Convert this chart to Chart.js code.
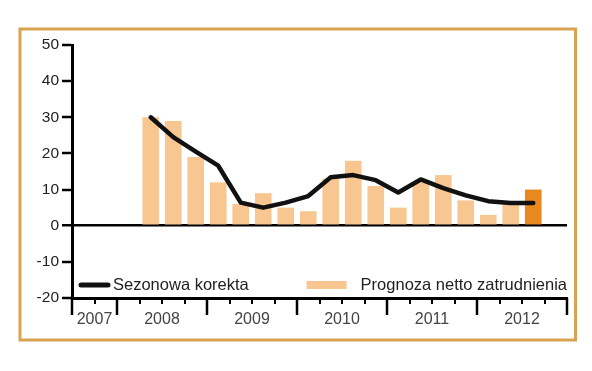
<!DOCTYPE html>
<html>

<head>
    <title>Prognoza netto zatrudnienia</title>
    <script src="https://cdn.jsdelivr.net/npm/chart.js"></script>
    <style>
        html, body {
            margin: 0;
            padding: 0;
            background: #ffffff;
        }

        #wrap {
            position: relative;
            width: 592px;
            height: 371px;
        }
    </style>
</head>

<body>
    <div id="wrap">
        <canvas id="chart" width="592" height="371"></canvas>
    </div>

    <script>
        // Years on the axis and how many quarters each one shows (2007 starts at Q3)
        const years = ['2007', '2008', '2009', '2010', '2011', '2012'];
        const quartersPerYear = [2, 4, 4, 4, 4, 4];

        // First quarter with data: 2008 Q2 (slot 3, counting from 2007 Q3)
        const firstSlot = 3;

        // Net employment outlook (bars) and seasonally adjusted (line)
        const forecast = [30, 29, 19, 12, 6, 9, 5, 4, 13, 18, 11, 5, 12, 14, 7, 3, 6.5, 10];
        const seasonal = [30, 24.5, 20.5, 16.6, 6.4, 5, 6.4, 8.2, 13.4, 14, 12.6, 9.2, 12.8, 10.4, 8.4, 6.8, 6.3, 6.3];

        // Y axis range
        const yMin = -20;
        const yMax = 50;
        const yStep = 10;

        const labelBars = 'Prognoza netto zatrudnienia';
        const labelLine = 'Sezonowa korekta';

        const peach = '#f8c690';
        const orange = '#e8891f';
        const frameColor = '#d9a352';
        const textColor = '#222222';
        const yearColor = '#444444';
        const fontFamily = '"Liberation Sans", Arial, sans-serif';

        // Quarter boundaries where a year starts/ends, and the middle of each year
        const totalSlots = quartersPerYear.reduce((a, b) => a + b, 0);
        const yearEdges = [0];
        quartersPerYear.forEach(n => yearEdges.push(yearEdges[yearEdges.length - 1] + n));
        const yearCenters = years.map((y, i) => (yearEdges[i] + yearEdges[i + 1]) / 2);

        const barPoints = forecast.map((v, i) => ({ x: firstSlot + i + 0.5, y: v }));
        const linePoints = seasonal.map((v, i) => ({ x: firstSlot + i + 0.5, y: v }));

        // Orange frame around the whole graphic
        const framePlugin = {
            id: 'frame',
            beforeDraw(chart) {
                const c = chart.ctx;
                c.save();
                c.strokeStyle = frameColor;
                c.lineWidth = 3;
                c.strokeRect(20, 29, 555.5, 311);
                c.restore();
            }
        };

        // Quarter tick marks below the x axis, longer at year edges
        const quarterTicks = {
            id: 'quarterTicks',
            afterDraw(chart) {
                const xs = chart.scales.x;
                const c = chart.ctx;
                c.save();
                c.strokeStyle = '#000';
                for (let q = 0; q <= totalSlots; q++) {
                    const px = Math.round(xs.getPixelForValue(q));
                    const major = yearEdges.includes(q);
                    c.lineWidth = major ? 2.5 : 2;
                    c.beginPath();
                    c.moveTo(px, xs.top);
                    c.lineTo(px, xs.top + (major ? 17 : 6));
                    c.stroke();
                }
                c.restore();
            }
        };

        // Legend drawn inside the plot, one item at each side
        const insideLegend = {
            id: 'insideLegend',
            afterDraw(chart) {
                const area = chart.chartArea;
                const c = chart.ctx;
                const y = area.bottom - 13;
                c.save();
                c.font = '16.5px ' + fontFamily;
                c.fillStyle = textColor;
                c.textBaseline = 'middle';

                // line item
                c.strokeStyle = '#111';
                c.lineWidth = 5;
                c.lineCap = 'round';
                c.beginPath();
                c.moveTo(area.left + 9, y);
                c.lineTo(area.left + 36, y);
                c.stroke();
                c.textAlign = 'left';
                c.fillText(chart.data.datasets[0].label, area.left + 41, y);

                // bar item
                c.textAlign = 'right';
                c.fillText(chart.data.datasets[1].label, area.right, y);
                const w = c.measureText(chart.data.datasets[1].label).width;
                c.fillStyle = peach;
                c.fillRect(area.right - w - 54, y - 4, 40, 8);
                c.restore();
            }
        };

        const config = {
            data: {
                datasets: [
                    {
                        type: 'line',
                        label: labelLine,
                        data: linePoints,
                        borderColor: '#111111',
                        borderWidth: 4.5,
                        pointRadius: 0,
                        tension: 0,
                        borderJoinStyle: 'round',
                        borderCapStyle: 'round',
                        order: 0
                    },
                    {
                        type: 'bar',
                        label: labelBars,
                        data: barPoints,
                        backgroundColor: ctx => ctx.dataIndex === forecast.length - 1 ? orange : peach,
                        borderWidth: 0,
                        barPercentage: 0.74,
                        categoryPercentage: 1,
                        order: 1
                    }
                ]
            },
            options: {
                responsive: false,
                animation: false,
                layout: {
                    padding: { left: 0, right: 25, top: 45, bottom: 0 }
                },
                plugins: {
                    legend: { display: false },
                    tooltip: { enabled: false }
                },
                scales: {
                    x: {
                        type: 'linear',
                        min: 0,
                        max: totalSlots,
                        offset: false,
                        afterBuildTicks: axis => {
                            axis.ticks = yearCenters.map(v => ({ value: v }));
                        },
                        afterFit: axis => {
                            axis.height = 73;
                        },
                        ticks: {
                            autoSkip: false,
                            maxRotation: 0,
                            padding: 12,
                            color: yearColor,
                            font: { size: 16, family: fontFamily },
                            callback: (v, i) => years[i]
                        },
                        grid: {
                            drawOnChartArea: false,
                            drawTicks: false
                        },
                        border: {
                            display: true,
                            color: '#000',
                            width: 3
                        }
                    },
                    y: {
                        min: yMin,
                        max: yMax,
                        afterFit: axis => {
                            axis.width = 72;
                        },
                        ticks: {
                            stepSize: yStep,
                            padding: 3,
                            color: textColor,
                            font: { size: 15.5, family: fontFamily }
                        },
                        grid: {
                            color: ctx => ctx.tick && ctx.tick.value === 0 ? '#000' : 'rgba(0,0,0,0)',
                            lineWidth: ctx => ctx.tick && ctx.tick.value === 0 ? 2.5 : 0,
                            tickColor: '#000',
                            tickLength: 10,
                            tickWidth: 2.5
                        },
                        border: {
                            display: true,
                            color: '#000',
                            width: 3
                        }
                    }
                }
            },
            plugins: [framePlugin, quarterTicks, insideLegend]
        };

        new Chart(document.getElementById('chart').getContext('2d'), config);
    </script>
</body>

</html>
